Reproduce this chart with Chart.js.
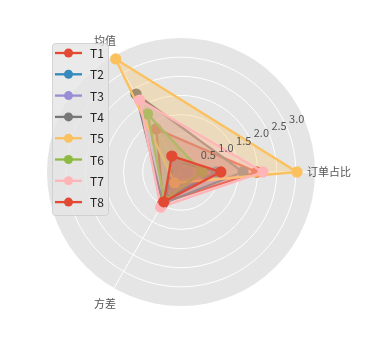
<!DOCTYPE html>
<html>
<head>
<meta charset="utf-8">
<script src="https://cdn.jsdelivr.net/npm/chart.js@4/dist/chart.umd.min.js"></script>
<style>
  html, body { margin: 0; padding: 0; background: #fff; }
  #box { width: 377px; height: 339px; }
</style>
</head>
<body>
<div id="box"><canvas id="myRadar"></canvas></div>
<script>
// axes (clockwise in Chart.js, so the order is 订单占比, 方差, 均值)
var axisNames = ["订单占比", "方差", "均值"];
var seriesNames = ["T1", "T2", "T3", "T4", "T5", "T6", "T7", "T8"];
var tickValues = [0.5, 1.0, 1.5, 2.0, 2.5, 3.0];

// values per series: [订单占比, 方差, 均值]
var t1 = [1.98, 0.92, 1.30];
var t2 = [0.92, 0.82, 0.33];
var t3 = [0.16, 0.36, 0.21];
var t4 = [1.62, 0.95, 2.35];
var t5 = [3.03, 0.33, 3.41];
var t6 = [0.55, 0.86, 1.75];
var t7 = [2.14, 1.06, 2.17];
var t8 = [1.04, 0.90, 0.48];

var seriesValues = [t1, t2, t3, t4, t5, t6, t7, t8];
var colors = ["#E24A33", "#348ABD", "#988ED5", "#777777", "#FBC15E", "#8EBA42", "#FFB5B8", "#E24A33"];

function alpha(hex, a) {
  var r = parseInt(hex.substr(1, 2), 16);
  var g = parseInt(hex.substr(3, 2), 16);
  var b = parseInt(hex.substr(5, 2), 16);
  return "rgba(" + r + "," + g + "," + b + "," + a + ")";
}

var fontFam = "'Microsoft YaHei', 'Noto Sans CJK SC', 'DejaVu Sans', sans-serif";

var datasets = [];
for (var i = 0; i < seriesNames.length; i++) {
  datasets.push({
    label: seriesNames[i],
    data: seriesValues[i],
    borderColor: colors[i],
    backgroundColor: alpha(colors[i], 0.3),
    pointBackgroundColor: colors[i],
    pointBorderColor: colors[i],
    pointRadius: 4.5,
    pointHoverRadius: 4.5,
    borderWidth: 2.3,
    fill: true,
    order: seriesNames.length - i
  });
}

// tick labels, axis names and legend, drawn on top like matplotlib does
var extraText = {
  id: "extraText",
  afterDraw: function(chart) {
    var ctx = chart.ctx;
    var sc = chart.scales.r;
    var ang = 22.5 * Math.PI / 180;
    ctx.save();

    ctx.font = "11px " + fontFam;
    ctx.fillStyle = "#555555";
    ctx.textAlign = "left";
    ctx.textBaseline = "bottom";
    for (var k = 0; k < tickValues.length; k++) {
      var d = sc.getDistanceFromCenterForValue(tickValues[k]);
      ctx.fillText(tickValues[k].toFixed(1), sc.xCenter + d * Math.cos(ang) + 2, sc.yCenter - d * Math.sin(ang) - 4);
    }

    ctx.textAlign = "center";
    ctx.textBaseline = "middle";
    for (var n = 0; n < axisNames.length; n++) {
      var p = sc.getPointPosition(n, sc.drawingArea + 18);
      if (n == 0) {
        p.x = p.x - 4;
      }
      ctx.fillText(axisNames[n], p.x, p.y);
    }

    // legend
    var lx = 52, ly = 43, lw = 56, lh = 172;
    ctx.beginPath();
    ctx.roundRect(lx + 0.5, ly + 0.5, lw, lh, 3);
    ctx.fillStyle = "rgba(229,229,229,0.8)";
    ctx.fill();
    ctx.strokeStyle = "rgba(204,204,204,0.8)";
    ctx.lineWidth = 1;
    ctx.stroke();

    ctx.font = "12px " + fontFam;
    ctx.textAlign = "left";
    for (var j = 0; j < chart.data.datasets.length; j++) {
      var ds = chart.data.datasets[j];
      var y = 53 + j * 21.3;
      ctx.strokeStyle = ds.borderColor;
      ctx.lineWidth = 2.3;
      ctx.beginPath();
      ctx.moveTo(55, y);
      ctx.lineTo(82, y);
      ctx.stroke();
      ctx.fillStyle = ds.borderColor;
      ctx.beginPath();
      ctx.arc(68.5, y, 4.5, 0, Math.PI * 2);
      ctx.fill();
      ctx.fillStyle = "#222222";
      ctx.fillText(ds.label, 90, y + 0.5);
    }
    ctx.restore();
  }
};

new Chart(document.getElementById("myRadar"), {
  type: "radar",
  data: {
    labels: axisNames,
    datasets: datasets
  },
  options: {
    responsive: true,
    maintainAspectRatio: false,
    animation: false,
    events: [],
    layout: {
      padding: { top: 38, bottom: 33, left: 47, right: 62 }
    },
    plugins: {
      legend: { display: false },
      tooltip: { enabled: false }
    },
    elements: {
      line: { tension: 0 }
    },
    scales: {
      r: {
        min: 0,
        max: 3.5,
        startAngle: 90,
        backgroundColor: "#E5E5E5",
        ticks: { display: false, stepSize: 0.5 },
        pointLabels: { display: false },
        grid: {
          circular: true,
          color: function(c) { return c.tick && c.tick.value >= 3.5 ? "rgba(0,0,0,0)" : "#ffffff"; },
          lineWidth: 1
        },
        angleLines: { color: "#ffffff", lineWidth: 1 }
      }
    }
  },
  plugins: [extraText]
});
</script>
</body>
</html>
